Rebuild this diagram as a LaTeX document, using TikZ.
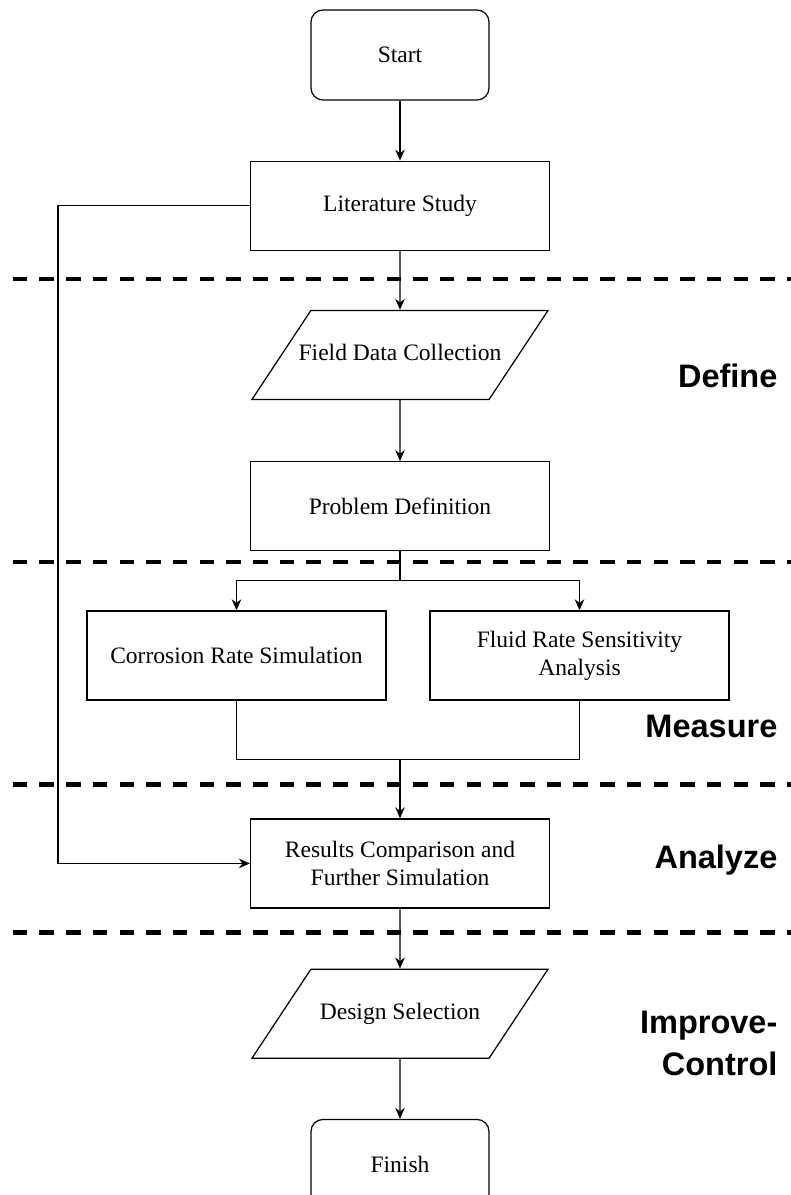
\documentclass[tikz,border=0pt]{standalone}
\usepackage{fontspec}
\setmainfont{Liberation Serif}
\newfontfamily\phasefont{Liberation Sans}
\usetikzlibrary{positioning,shapes.geometric,arrows.meta,calc}

\begin{document}
\begin{tikzpicture}[node distance=1.2cm, line width=0.7pt]
    \tikzstyle{terminal} = [rectangle, rounded corners=0.24cm, minimum width=3.56cm, minimum height=1.8cm, text centered, draw, font=\fontsize{13.4}{16}\selectfont]
    \tikzstyle{process} = [rectangle, minimum width=5.98cm, minimum height=1.78cm, align=center, draw, font=\fontsize{13.4}{16}\selectfont]
    \tikzstyle{io} = [trapezium, trapezium left angle=56.5, trapezium right angle=123.5, trapezium stretches body, text height=0.32cm, text depth=0.1cm, inner ysep=0.68cm, inner xsep=-0.3cm, minimum width=5.92cm, text centered, draw, font=\fontsize{13.4}{16}\selectfont]
    \tikzstyle{flow} = [-{Stealth[length=0.22cm, width=0.19cm]}]
    \tikzstyle{phaseline} = [line width=2.5pt, dash pattern=on 0.29cm off 0.244cm]
    \tikzstyle{phase} = [font=\phasefont\bfseries\fontsize{18.5}{23.8}\selectfont, anchor=base east, align=right, inner sep=0pt]

    \clip (0,0) rectangle (15.82,-23.9);

    % Flow steps
    \node [terminal] (start) at (8,-1.1) {Start};
    \node [process, below=of start] (litstudy) {Literature Study};
    \node [io, below=1.18cm of litstudy] (fielddata) {Field Data Collection};
    \node [process, below=1.22cm of fielddata] (probdef) {Problem Definition};
    \node [process, below=1.18cm of probdef, xshift=-3.27cm] (corrosion) {Corrosion Rate Simulation};
    \node [process, below=1.18cm of probdef, xshift=3.59cm] (fluidrate) {Fluid Rate Sensitivity\\Analysis};
    \node [process, below=5.34cm of probdef] (results) {Results Comparison and\\Further Simulation};
    \node [io, below=of results] (design) {Design Selection};
    \node [terminal, below=of design] (finish) {Finish};

    % Phase borders
    \draw [phaseline] (0.254,-5.574) -- (15.82,-5.574);
    \draw [phaseline] (0.254,-11.234) -- (15.82,-11.234);
    \draw [phaseline] (0.254,-15.686) -- (15.82,-15.686);
    \draw [phaseline] (0.254,-18.646) -- (15.82,-18.646);

    % Phase names
    \node [phase] (define) at (15.56,-7.74) {Define};
    \node [phase] (measure) at (15.56,-14.74) {Measure};
    \node [phase] (analyze) at (15.56,-17.36) {Analyze};
    \node [phase] (improve) at (15.56,-21.5) {Improve-\\Control};

    % Arrows
    \draw [flow] (start) -- (litstudy);
    \draw [flow] (litstudy) -- (fielddata);
    \draw [flow] (fielddata) -- (probdef);
    \draw (probdef.south) -- ++(0,-0.58) coordinate (split);
    \draw [flow] (split) -| (corrosion);
    \draw [flow] (split) -| (fluidrate);
    \coordinate (merge) at ([yshift=-1.18cm]fluidrate.south);
    \draw (corrosion.south) |- (merge) -- (fluidrate.south);
    \draw [flow] (merge -| results) -- (results);
    \draw [flow] (litstudy.west) -- ++(-3.84,0) |- (results.west);
    \draw [flow] (results) -- (design);
    \draw [flow] (design) -- (finish);
\end{tikzpicture}
\end{document}
